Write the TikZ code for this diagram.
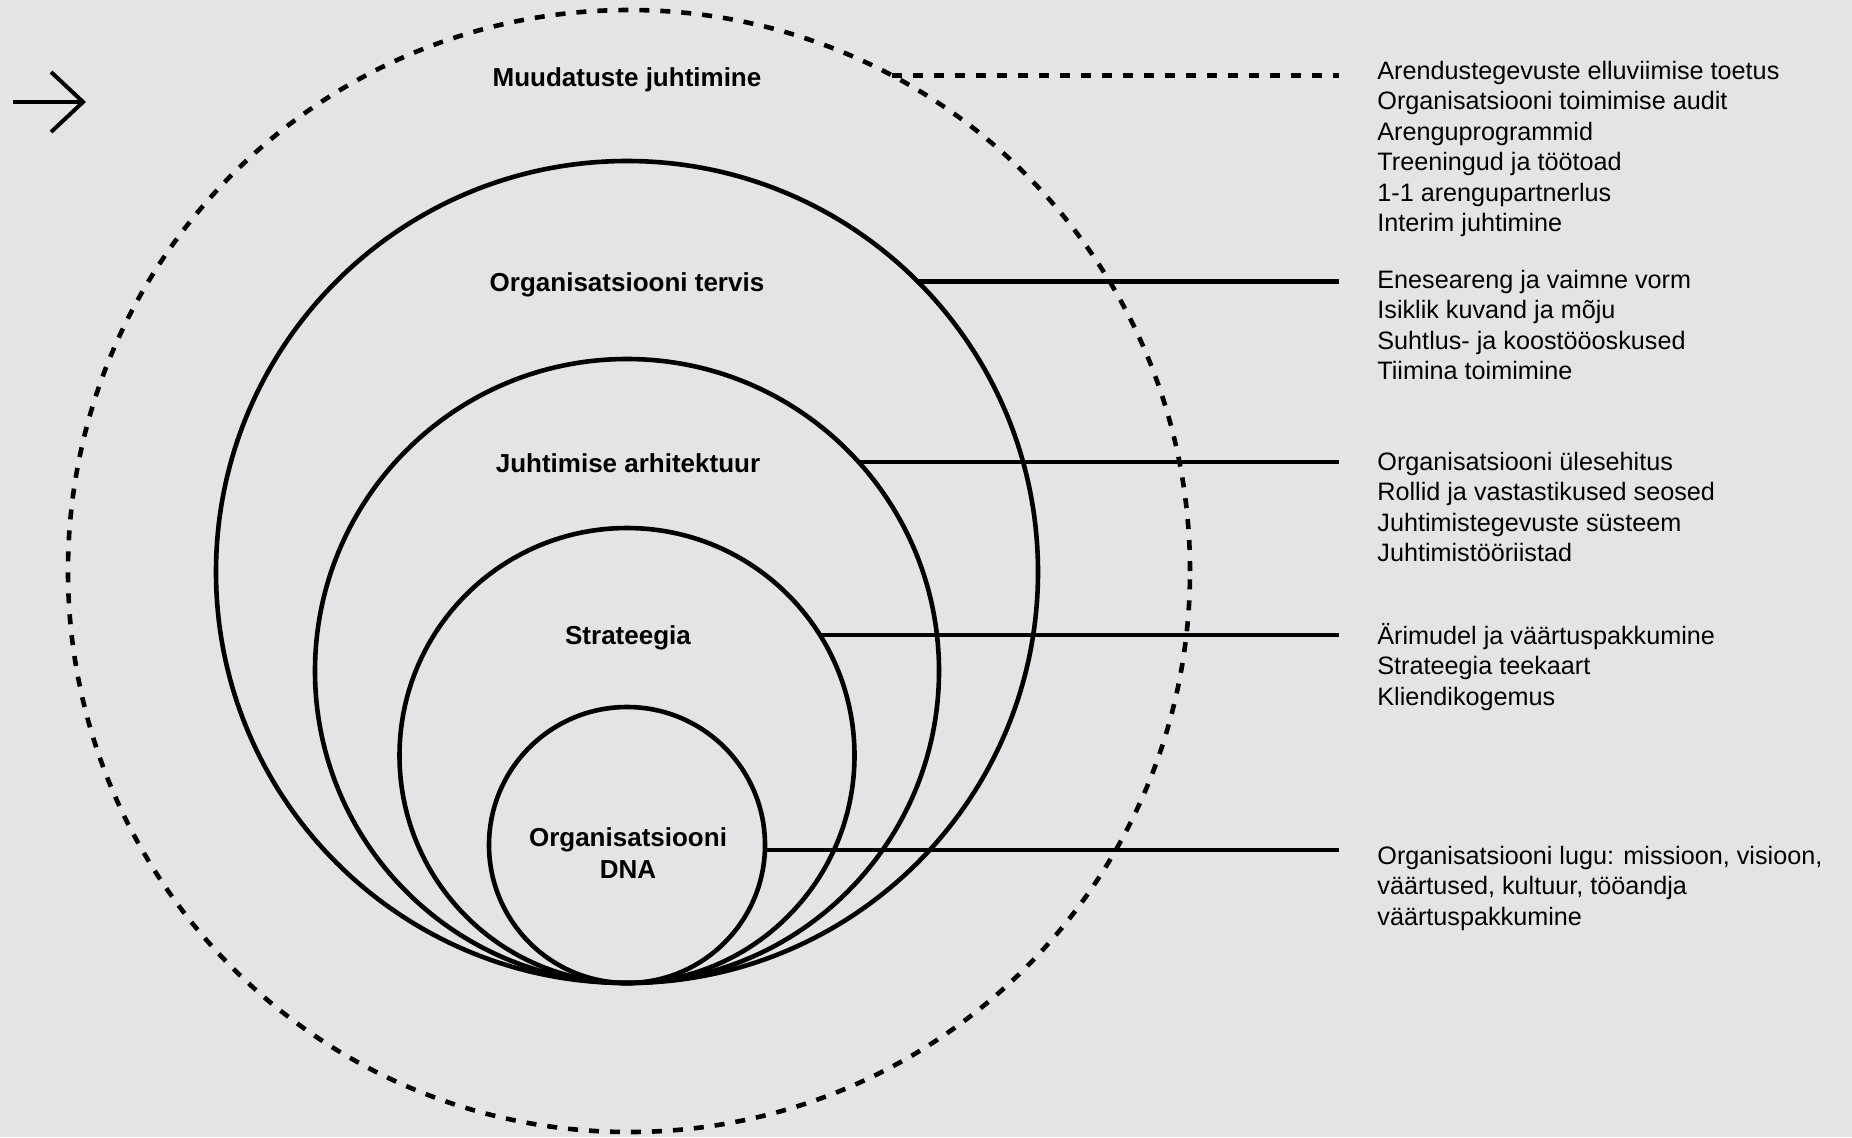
\documentclass[tikz,border=0pt]{standalone}
\usepackage{fontspec}
\setmainfont{Liberation Sans}
\usetikzlibrary{positioning,arrows.meta}
\definecolor{bggray}{RGB}{228,228,230}

\begin{document}
\begin{tikzpicture}[x=0.5pt,y=-0.5pt,
    ring/.style={circle,draw,line width=2.3pt,inner sep=0pt,outer sep=0pt},
    dashring/.style={ring,dash pattern=on 5pt off 5.5pt},
    link/.style={line width=2.2pt},
    dashlink/.style={link,dash pattern=on 5pt off 5.5pt},
    title/.style={font=\fontsize{13}{16}\selectfont\bfseries,align=center,anchor=base},
    items/.style={font=\fontsize{12.6}{15.25}\selectfont,align=left,anchor=base west,inner sep=0pt}]
  \fill[bggray] (0,0) rectangle (1852,1137);
  \useasboundingbox (0,0) rectangle (1852,1137);

  \coordinate (arrtail) at (13,102);
  \coordinate (arrtip) at (86,102);
  \draw[line width=2pt,-{Straight Barb[length=16pt,width=30pt,line width=2pt]}] (arrtail) -- (arrtip);

  \node[dashring,minimum size=561pt] (outer) at (629,571) {};
  \node[ring,minimum size=411pt] (tervis) at (627,572) {};
  \node[ring,minimum size=312pt] (arhitektuur) at (627,671) {};
  \node[ring,minimum size=227.5pt] (strateegia) at (627,755.5) {};
  \node[ring,minimum size=138pt] (dna) at (627,845) {};

  % base anchor = last line
  \node[title] (t0) at (627,86) {Muudatuste juhtimine};
  \node[title] (t1) at (627,291) {Organisatsiooni tervis};
  \node[title] (t2) at (628,472) {Juhtimise arhitektuur};
  \node[title] (t3) at (628,644) {Strateegia};
  \node[title] (t4) at (628,878) {Organisatsiooni\\DNA};

  \coordinate (edge) at (1339,0);
  \draw[dashlink] (outer.62.4) -- (edge |- outer.62.4);
  \draw[link] (tervis.45.8) -- (edge |- tervis.45.8);
  \draw[link] (arhitektuur.42.9) -- (edge |- arhitektuur.42.9);
  \draw[link] (strateegia.32.6) -- (edge |- strateegia.32.6);
  \draw[link] (dna.-2.6) -- (edge |- dna.-2.6);

  \node[items] (l0) at (1377,231.5) {Arendustegevuste elluviimise toetus\\Organisatsiooni toimimise audit\\Arenguprogrammid\\Treeningud ja töötoad\\1-1 arengupartnerlus\\Interim juhtimine};
  \node[items] (l1) at (1377,379.5) {Eneseareng ja vaimne vorm\\Isiklik kuvand ja mõju\\Suhtlus- ja koostööoskused\\Tiimina toimimine};
  \node[items] (l2) at (1377,561.5) {Organisatsiooni ülesehitus\\Rollid ja vastastikused seosed\\Juhtimistegevuste süsteem\\Juhtimistööriistad};
  \node[items] (l3) at (1377,705) {Ärimudel ja väärtuspakkumine\\Strateegia teekaart\\Kliendikogemus};
  \node[items] (l4) at (1377,925) {Organisatsiooni lugu: missioon, visioon,\\väärtused, kultuur, tööandja\\väärtuspakkumine};
\end{tikzpicture}
\end{document}
